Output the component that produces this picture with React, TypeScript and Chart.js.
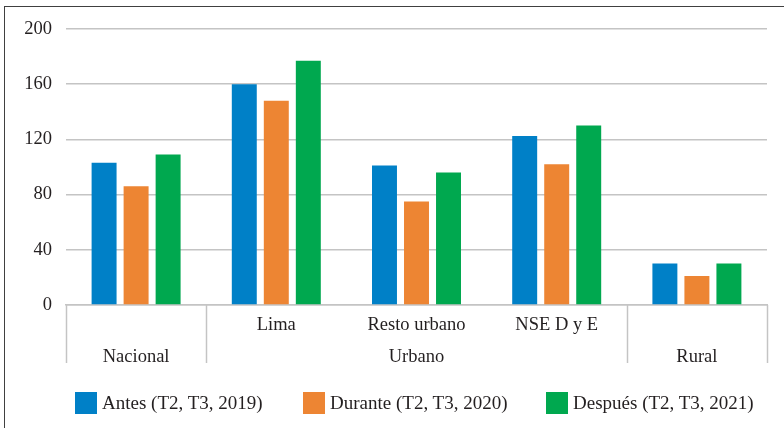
import React, { useEffect, useRef } from "react";
import { Chart, registerables } from "chart.js";

Chart.register(...registerables);

const subLabels = ["", "Lima", "Resto urbano", "NSE D y E", ""];
const groupLabels = ["Nacional", "", "Urbano", "", "Rural"];
const groupBoundaries = [0, 1, 4, 5];

const seriesNames = ["Antes (T2, T3, 2019)", "Durante (T2, T3, 2020)", "Después (T2, T3, 2021)"];
const antes = [103, 160, 101, 122.5, 30];
const durante = [86, 148, 75, 102, 21];
const despues = [109, 177, 96, 130, 30];
const seriesColors = ["#0080c7", "#ed8533", "#00a84f"];

const yTicks = [0, 40, 80, 120, 160, 200];

const FONT = "'Liberation Serif', 'Times New Roman', serif";
const TEXT = "#231f20";
const GRID = "#c4c4c4";

const separatorPlugin = {
  id: "separators",
  afterDraw(chart: any) {
    const x = chart.scales.x;
    const ctx = chart.ctx;
    const p0 = x.getPixelForValue(0);
    const w = x.getPixelForValue(1) - p0;
    ctx.save();
    ctx.strokeStyle = GRID;
    ctx.lineWidth = 1.5;
    groupBoundaries.forEach((b) => {
      const px = Math.round(p0 + (b - 0.5) * w) + 0.5;
      ctx.beginPath();
      ctx.moveTo(px, x.top);
      ctx.lineTo(px, x.top + 58);
      ctx.stroke();
    });
    ctx.restore();
  },
};

export default function App() {
  const ref = useRef<HTMLCanvasElement>(null);

  useEffect(() => {
    if (!ref.current) return;
    const labels = subLabels.map((s, i) => [s, groupLabels[i]]);
    const data = [antes, durante, despues];
    const chart = new Chart(ref.current, {
      type: "bar",
      data: {
        labels,
        datasets: seriesNames.map((name, i) => ({
          label: name,
          data: data[i],
          backgroundColor: seriesColors[i],
          borderWidth: 0,
          categoryPercentage: 0.685,
          barPercentage: 0.78,
        })),
      },
      options: {
        animation: false,
        responsive: false,
        maintainAspectRatio: false,
        layout: { padding: { left: 0, right: 17, top: 29, bottom: 53 } },
        plugins: {
          legend: { display: false },
          tooltip: { enabled: false },
        },
        scales: {
          x: {
            grid: { display: false, drawTicks: false },
            border: { display: true, color: GRID, width: 1.5 },
            ticks: {
              color: TEXT,
              font: { family: FONT, size: 18.5, lineHeight: 1.73 },
              padding: 4,
              maxRotation: 0,
              autoSkip: false,
            },
            afterFit: (s: any) => {
              s.height = 70;
            },
          },
          y: {
            min: 0,
            max: 200,
            afterBuildTicks: (s: any) => {
              s.ticks = yTicks.map((v) => ({ value: v }));
            },
            grid: { color: GRID, lineWidth: 1.5, drawTicks: false },
            border: { display: false },
            ticks: {
              color: TEXT,
              font: { family: FONT, size: 18.5 },
              padding: 14,
            },
            afterFit: (s: any) => {
              s.width = 66;
            },
          },
        },
      },
      plugins: [separatorPlugin],
    });
    return () => chart.destroy();
  }, []);

  const legendLeft = [75, 303, 546];

  return (
    <div
      style={{
        position: "fixed",
        left: 0,
        top: 0,
        width: 784,
        height: 428,
        overflow: "hidden",
        background: "#fff",
      }}
    >
      <div
        style={{
          position: "absolute",
          left: 4,
          top: 6,
          width: 800,
          height: 450,
          borderLeft: "1.5px solid #404040",
          borderTop: "1.5px solid #404040",
        }}
      />
      <canvas
        ref={ref}
        width={784}
        height={428}
        style={{ position: "absolute", left: 0, top: 0, width: 784, height: 428 }}
      />
      {seriesNames.map((name, i) => (
        <div
          key={name}
          style={{
            position: "absolute",
            left: legendLeft[i],
            top: 392,
            height: 22,
            display: "flex",
            alignItems: "center",
            fontFamily: FONT,
            fontSize: 19,
            color: TEXT,
            whiteSpace: "nowrap",
          }}
        >
          <span
            style={{
              display: "inline-block",
              width: 22,
              height: 22,
              background: seriesColors[i],
              marginRight: 5,
            }}
          />
          <span>{name}</span>
        </div>
      ))}
    </div>
  );
}
